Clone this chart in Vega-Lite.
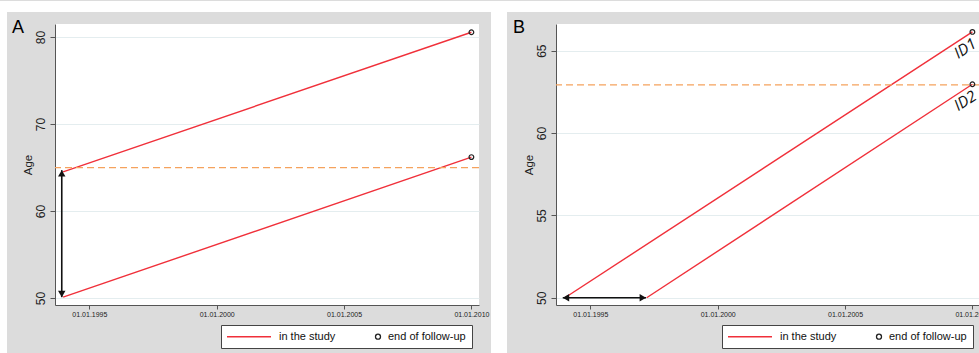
{
  "$schema": "https://vega.github.io/schema/vega-lite/v6.json",
  "background": "#dcdcdc",
  "padding": 0,
  "bounds": "flush",
  "align": "each",
  "spacing": 0,
  "columns": 7,
  "config": {
    "view": {"stroke": null},
    "font": "Liberation Sans",
    "axis": {"domainColor": "#555555", "tickColor": "#555555", "labelColor": "#222222", "titleColor": "#222222", "gridColor": "#e4edef", "gridWidth": 1, "domainWidth": 1, "tickWidth": 1}
  },
  "resolve": {"scale": {"color": "independent", "shape": "independent"}},
  "concat": [
    {"width": 7, "height": 11, "data": {"values": [{}]}, "mark": {"type": "text", "text": ""}, "encoding": {}, "view": {"fill": "white", "stroke": null}},
    {"width": 48, "height": 11, "data": {"values": [{}]}, "mark": {"type": "text", "text": ""}, "encoding": {}, "view": {"fill": "white", "stroke": null}},
    {"width": 424, "height": 11, "data": {"values": [{}]}, "mark": {"type": "text", "text": ""}, "encoding": {}, "view": {"fill": "white", "stroke": null}},
    {"width": 12, "height": 11, "data": {"values": [{}]}, "mark": {"type": "text", "text": ""}, "encoding": {}, "view": {"fill": "white", "stroke": null}},
    {"width": 16, "height": 11, "data": {"values": [{}]}, "mark": {"type": "text", "text": ""}, "encoding": {}, "view": {"fill": "white", "stroke": null}},
    {"width": 49, "height": 11, "data": {"values": [{}]}, "mark": {"type": "text", "text": ""}, "encoding": {}, "view": {"fill": "white", "stroke": null}},
    {"width": 424, "height": 11, "data": {"values": [{}]}, "mark": {"type": "text", "text": ""}, "encoding": {}, "view": {"fill": "white", "stroke": null}},

    {"width": 7, "height": 12, "data": {"values": [{}]}, "mark": {"type": "text", "text": ""}, "encoding": {}, "view": {"fill": "white", "stroke": null}},
    {"width": 1, "height": 1, "data": {"values": [{}]}, "mark": {"type": "text", "text": ""}, "encoding": {}, "view": {"fill": null, "stroke": null}},
    {"width": 1, "height": 1, "data": {"values": [{}]}, "mark": {"type": "text", "text": ""}, "encoding": {}, "view": {"fill": null, "stroke": null}},
    {"width": 1, "height": 1, "data": {"values": [{}]}, "mark": {"type": "text", "text": ""}, "encoding": {}, "view": {"fill": null, "stroke": null}},
    {"width": 16, "height": 12, "data": {"values": [{}]}, "mark": {"type": "text", "text": ""}, "encoding": {}, "view": {"fill": "white", "stroke": null}},
    {"width": 1, "height": 1, "data": {"values": [{}]}, "mark": {"type": "text", "text": ""}, "encoding": {}, "view": {"fill": null, "stroke": null}},
    {"width": 1, "height": 1, "data": {"values": [{}]}, "mark": {"type": "text", "text": ""}, "encoding": {}, "view": {"fill": null, "stroke": null}},

    {"width": 7, "height": 281, "data": {"values": [{}]}, "mark": {"type": "text", "text": ""}, "encoding": {}, "view": {"fill": "white", "stroke": null}},
    {"width": 1, "height": 1, "data": {"values": [{}]}, "mark": {"type": "text", "text": ""}, "encoding": {}, "view": {"fill": null, "stroke": null}},
    {
      "width": 424, "height": 281,
      "view": {"fill": "white", "stroke": null},
      "title": {"text": "A", "anchor": "start", "frame": "group", "fontSize": 18, "fontWeight": "normal", "color": "#000000", "baseline": "alphabetic", "offset": 0, "dx": -43, "dy": 27},
      "layer": [
        {
          "data": {"values": [
            {"id": "p1", "date": "1993-12-20", "age": 64.5},
            {"id": "p1", "date": "2010-01-01", "age": 80.55},
            {"id": "p2", "date": "1993-12-20", "age": 50.1},
            {"id": "p2", "date": "2010-01-01", "age": 66.2}
          ]},
          "mark": {"type": "line", "color": "#f0303a", "strokeWidth": 1.4},
          "encoding": {
            "x": {"field": "date", "type": "temporal",
                  "scale": {"type": "utc", "domain": [{"year": 1993, "month": 8, "date": 26, "utc": true}, {"year": 2010, "month": 4, "date": 20, "utc": true}]},
                  "axis": {"values": [{"year": 1995, "month": 1, "date": 1, "utc": true}, {"year": 2000, "month": 1, "date": 1, "utc": true}, {"year": 2005, "month": 1, "date": 1, "utc": true}, {"year": 2010, "month": 1, "date": 1, "utc": true}],
                           "labelExpr": "utcFormat(datum.value, '%d.%m.%Y')", "labelFontSize": 7, "tickSize": 4, "labelPadding": 1, "grid": false, "title": null, "labelFlush": false, "labelOverlap": false}},
            "y": {"field": "age", "type": "quantitative",
                  "scale": {"domain": [49.2, 81.5], "nice": false, "zero": false},
                  "axis": {"values": [50, 60, 70, 80], "title": "Age", "titleFontSize": 11.5, "titleFontWeight": "normal", "titlePadding": 1, "labelAngle": -90, "labelAlign": "center", "labelBaseline": "bottom", "labelFontSize": 12, "tickSize": 5, "labelPadding": 3, "grid": true}},
            "detail": {"field": "id"}
          }
        },
        {
          "data": {"values": [{"age": 65}]},
          "mark": {"type": "rule", "color": "#f5a25d", "strokeDash": [7, 4], "strokeWidth": 1.3},
          "encoding": {"y": {"field": "age", "type": "quantitative"}}
        },
        {
          "data": {"values": [{"date": "1993-12-01", "age": 50.1, "age2": 64.7}]},
          "mark": {"type": "rule", "color": "#111111", "strokeWidth": 1.6},
          "encoding": {"x": {"field": "date", "type": "temporal"}, "y": {"field": "age", "type": "quantitative"}, "y2": {"field": "age2"}}
        },
        {
          "data": {"values": [{"date": "1993-12-01", "age": 64.7}]},
          "mark": {"type": "point", "shape": "triangle-up", "filled": true, "color": "#111111", "opacity": 1, "size": 55, "yOffset": 3.2},
          "encoding": {"x": {"field": "date", "type": "temporal"}, "y": {"field": "age", "type": "quantitative"}}
        },
        {
          "data": {"values": [{"date": "1993-12-01", "age": 50.1}]},
          "mark": {"type": "point", "shape": "triangle-down", "filled": true, "color": "#111111", "opacity": 1, "size": 55, "yOffset": -3.2},
          "encoding": {"x": {"field": "date", "type": "temporal"}, "y": {"field": "age", "type": "quantitative"}}
        },
        {
          "data": {"values": [
            {"date": "2010-01-01", "age": 80.55, "type": "end of follow-up"},
            {"date": "2010-01-01", "age": 66.2, "type": "end of follow-up"}
          ]},
          "mark": {"type": "point", "filled": false, "opacity": 1, "size": 22, "strokeWidth": 1.2},
          "encoding": {
            "x": {"field": "date", "type": "temporal"},
            "y": {"field": "age", "type": "quantitative"},
            "color": {"field": "type", "type": "nominal",
                      "scale": {"domain": ["in the study", "end of follow-up"], "range": ["#f0303a", "#222222"]},
                      "legend": {"orient": "none", "legendX": 166, "legendY": 301, "direction": "horizontal", "title": null, "padding": 6, "fillColor": "white", "strokeColor": "#444444", "labelFontSize": 11, "labelOffset": 4.5, "symbolOffset": 36.5, "columnPadding": 0, "symbolStrokeWidth": 1.3, "symbolSize": 25, "labelColor": "#111111", "labelFont": "Liberation Sans", "symbolFillColor": "transparent"}},
            "shape": {"field": "type", "type": "nominal",
                      "scale": {"domain": ["in the study", "end of follow-up"], "range": ["M-16.8,0H0.8", "circle"]},
                      "legend": {"orient": "none", "legendX": 166, "legendY": 301, "direction": "horizontal", "title": null, "padding": 6, "fillColor": "white", "strokeColor": "#444444", "labelFontSize": 11, "labelOffset": 4.5, "symbolOffset": 36.5, "columnPadding": 0, "symbolStrokeWidth": 1.3, "symbolSize": 25, "labelColor": "#111111", "labelFont": "Liberation Sans", "symbolFillColor": "transparent"}}
          }
        }
      ]
    },
    {"width": 1, "height": 1, "data": {"values": [{}]}, "mark": {"type": "text", "text": ""}, "encoding": {}, "view": {"fill": null, "stroke": null}},
    {"width": 16, "height": 281, "data": {"values": [{}]}, "mark": {"type": "text", "text": ""}, "encoding": {}, "view": {"fill": "white", "stroke": null}},
    {"width": 1, "height": 1, "data": {"values": [{}]}, "mark": {"type": "text", "text": ""}, "encoding": {}, "view": {"fill": null, "stroke": null}},
    {
      "width": 424, "height": 281,
      "view": {"fill": "white", "stroke": null},
      "title": {"text": "B", "anchor": "start", "frame": "group", "fontSize": 18, "fontWeight": "normal", "color": "#000000", "baseline": "alphabetic", "offset": 0, "dx": -43, "dy": 27},
      "layer": [
        {
          "data": {"values": [
            {"id": "ID1", "date": "1994-01-01", "age": 50},
            {"id": "ID1", "date": "2010-01-01", "age": 66.14},
            {"id": "ID2", "date": "1997-03-18", "age": 50},
            {"id": "ID2", "date": "2010-01-01", "age": 62.96}
          ]},
          "mark": {"type": "line", "color": "#f0303a", "strokeWidth": 1.4},
          "encoding": {
            "x": {"field": "date", "type": "temporal",
                  "scale": {"type": "utc", "domain": [{"year": 1993, "month": 8, "date": 26, "utc": true}, {"year": 2010, "month": 4, "date": 20, "utc": true}]},
                  "axis": {"values": [{"year": 1995, "month": 1, "date": 1, "utc": true}, {"year": 2000, "month": 1, "date": 1, "utc": true}, {"year": 2005, "month": 1, "date": 1, "utc": true}, {"year": 2010, "month": 1, "date": 1, "utc": true}],
                           "labelExpr": "utcFormat(datum.value, '%d.%m.%Y')", "labelFontSize": 7, "tickSize": 4, "labelPadding": 1, "grid": false, "title": null, "labelFlush": false, "labelOverlap": false}},
            "y": {"field": "age", "type": "quantitative",
                  "scale": {"domain": [49.56, 66.62], "nice": false, "zero": false},
                  "axis": {"values": [50, 55, 60, 65], "title": "Age", "titleFontSize": 11.5, "titleFontWeight": "normal", "titlePadding": 1, "labelAngle": -90, "labelAlign": "center", "labelBaseline": "bottom", "labelFontSize": 12, "tickSize": 5, "labelPadding": 3, "grid": true}},
            "detail": {"field": "id"}
          }
        },
        {
          "data": {"values": [{"age": 62.92}]},
          "mark": {"type": "rule", "color": "#f5a25d", "strokeDash": [7, 4], "strokeWidth": 1.3},
          "encoding": {"y": {"field": "age", "type": "quantitative"}}
        },
        {
          "data": {"values": [{"date": "1993-12-01", "date2": "1997-03-09", "age": 50}]},
          "mark": {"type": "rule", "color": "#111111", "strokeWidth": 1.6},
          "encoding": {"x": {"field": "date", "type": "temporal"}, "x2": {"field": "date2"}, "y": {"field": "age", "type": "quantitative"}}
        },
        {
          "data": {"values": [{"date": "1993-12-01", "age": 50}]},
          "mark": {"type": "point", "shape": "triangle-left", "filled": true, "color": "#111111", "opacity": 1, "size": 55, "xOffset": 3.2},
          "encoding": {"x": {"field": "date", "type": "temporal"}, "y": {"field": "age", "type": "quantitative"}}
        },
        {
          "data": {"values": [{"date": "1997-03-09", "age": 50}]},
          "mark": {"type": "point", "shape": "triangle-right", "filled": true, "color": "#111111", "opacity": 1, "size": 55, "xOffset": -3.2},
          "encoding": {"x": {"field": "date", "type": "temporal"}, "y": {"field": "age", "type": "quantitative"}}
        },
        {
          "data": {"values": [
            {"date": "2010-01-01", "age": 66.14, "label": "ID1"},
            {"date": "2010-01-01", "age": 62.96, "label": "ID2"}
          ]},
          "mark": {"type": "text", "font": "Open Sans", "fontStyle": "italic", "fontSize": 15.5, "color": "#111111", "angle": -33, "align": "center", "baseline": "middle", "dx": -15, "dy": 10},
          "encoding": {"x": {"field": "date", "type": "temporal"}, "y": {"field": "age", "type": "quantitative"}, "text": {"field": "label"}}
        },
        {
          "data": {"values": [
            {"date": "2010-01-01", "age": 66.14, "type": "end of follow-up"},
            {"date": "2010-01-01", "age": 62.96, "type": "end of follow-up"}
          ]},
          "mark": {"type": "point", "filled": false, "opacity": 1, "size": 22, "strokeWidth": 1.2},
          "encoding": {
            "x": {"field": "date", "type": "temporal"},
            "y": {"field": "age", "type": "quantitative"},
            "color": {"field": "type", "type": "nominal",
                      "scale": {"domain": ["in the study", "end of follow-up"], "range": ["#f0303a", "#222222"]},
                      "legend": {"orient": "none", "legendX": 166, "legendY": 301, "direction": "horizontal", "title": null, "padding": 6, "fillColor": "white", "strokeColor": "#444444", "labelFontSize": 11, "labelOffset": 4.5, "symbolOffset": 36.5, "columnPadding": 0, "symbolStrokeWidth": 1.3, "symbolSize": 25, "labelColor": "#111111", "labelFont": "Liberation Sans", "symbolFillColor": "transparent"}},
            "shape": {"field": "type", "type": "nominal",
                      "scale": {"domain": ["in the study", "end of follow-up"], "range": ["M-16.8,0H0.8", "circle"]},
                      "legend": {"orient": "none", "legendX": 166, "legendY": 301, "direction": "horizontal", "title": null, "padding": 6, "fillColor": "white", "strokeColor": "#444444", "labelFontSize": 11, "labelOffset": 4.5, "symbolOffset": 36.5, "columnPadding": 0, "symbolStrokeWidth": 1.3, "symbolSize": 25, "labelColor": "#111111", "labelFont": "Liberation Sans", "symbolFillColor": "transparent"}}
          }
        }
      ]
    },

    {"width": 7, "height": 49, "data": {"values": [{}]}, "mark": {"type": "text", "text": ""}, "encoding": {}, "view": {"fill": "white", "stroke": null}},
    {"width": 1, "height": 1, "data": {"values": [{}]}, "mark": {"type": "text", "text": ""}, "encoding": {}, "view": {"fill": null, "stroke": null}},
    {"width": 1, "height": 1, "data": {"values": [{}]}, "mark": {"type": "text", "text": ""}, "encoding": {}, "view": {"fill": null, "stroke": null}},
    {"width": 1, "height": 1, "data": {"values": [{}]}, "mark": {"type": "text", "text": ""}, "encoding": {}, "view": {"fill": null, "stroke": null}},
    {"width": 16, "height": 49, "data": {"values": [{}]}, "mark": {"type": "text", "text": ""}, "encoding": {}, "view": {"fill": "white", "stroke": null}},
    {"width": 1, "height": 1, "data": {"values": [{}]}, "mark": {"type": "text", "text": ""}, "encoding": {}, "view": {"fill": null, "stroke": null}},
    {"width": 1, "height": 1, "data": {"values": [{}]}, "mark": {"type": "text", "text": ""}, "encoding": {}, "view": {"fill": null, "stroke": null}}
  ]
}
